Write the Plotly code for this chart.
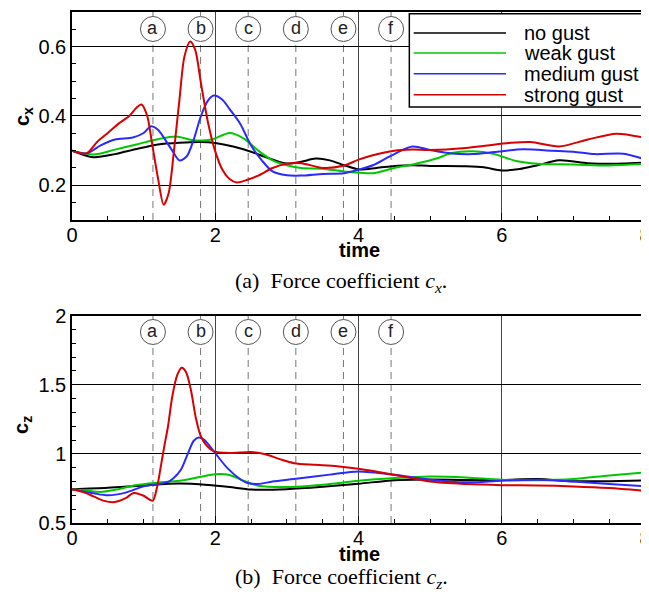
import plotly.graph_objects as go

# ---------------- data ----------------
# top panel: force coefficient c_x
t_cx_none = [0, 0.3, 0.6, 0.9, 1.2, 1.5, 1.8, 2.0, 2.25, 2.5, 2.75, 3.0, 3.2, 3.4, 3.6, 3.8, 4.0, 4.25, 4.5, 4.75, 5.0, 5.5, 5.75, 6.0, 6.25, 6.5, 6.8, 7.2, 7.5, 8.0]
cx_none = [0.300, 0.281, 0.290, 0.305, 0.318, 0.323, 0.325, 0.322, 0.312, 0.297, 0.278, 0.263, 0.268, 0.277, 0.272, 0.258, 0.246, 0.250, 0.256, 0.258, 0.256, 0.255, 0.252, 0.243, 0.247, 0.258, 0.272, 0.264, 0.262, 0.266]

t_cx_weak = [0, 0.3, 0.6, 0.9, 1.2, 1.45, 1.7, 1.95, 2.2, 2.4, 2.6, 2.8, 3.0, 3.2, 3.5, 3.8, 4.2, 4.5, 4.8, 5.1, 5.3, 5.6, 5.9, 6.2, 6.5, 7.0, 7.5, 8.0]
cx_weak = [0.300, 0.289, 0.303, 0.318, 0.333, 0.341, 0.330, 0.332, 0.351, 0.335, 0.300, 0.272, 0.258, 0.250, 0.248, 0.240, 0.235, 0.250, 0.262, 0.278, 0.293, 0.298, 0.290, 0.270, 0.262, 0.260, 0.257, 0.262]

t_cx_medium = [0, 0.2, 0.4, 0.6, 0.85, 1.0, 1.1, 1.2, 1.3, 1.4, 1.5, 1.6, 1.7, 1.8, 1.9, 1.98, 2.1, 2.2, 2.35, 2.5, 2.65, 2.8, 3.0, 3.2, 3.5, 3.8, 4.0, 4.2, 4.45, 4.75, 5.0, 5.3, 5.6, 5.9, 6.3, 6.7, 7.0, 7.3, 7.7, 8.0]
cx_medium = [0.300, 0.292, 0.315, 0.332, 0.338, 0.351, 0.370, 0.360, 0.332, 0.300, 0.272, 0.283, 0.332, 0.400, 0.445, 0.459, 0.447, 0.420, 0.377, 0.315, 0.272, 0.240, 0.229, 0.228, 0.233, 0.235, 0.245, 0.258, 0.285, 0.312, 0.302, 0.292, 0.290, 0.296, 0.304, 0.300, 0.297, 0.290, 0.291, 0.275]

t_cx_strong = [0, 0.2, 0.35, 0.5, 0.65, 0.8, 0.9, 0.97, 1.05, 1.12, 1.2, 1.28, 1.35, 1.42, 1.5, 1.57, 1.65, 1.72, 1.8, 1.9, 2.0, 2.1, 2.2, 2.3, 2.45, 2.6, 2.8, 3.0, 3.2, 3.5, 3.8, 4.0, 4.2, 4.5, 4.75, 5.0, 5.5, 5.8, 6.1, 6.4, 6.8, 7.2, 7.6, 8.0]
cx_strong = [0.300, 0.292, 0.325, 0.351, 0.378, 0.400, 0.424, 0.433, 0.400, 0.318, 0.221, 0.144, 0.178, 0.293, 0.447, 0.572, 0.615, 0.591, 0.495, 0.380, 0.298, 0.245, 0.218, 0.208, 0.216, 0.228, 0.250, 0.262, 0.264, 0.250, 0.257, 0.274, 0.287, 0.300, 0.303, 0.302, 0.308, 0.315, 0.322, 0.325, 0.312, 0.332, 0.349, 0.337]

# bottom panel: force coefficient c_z
t_cz_none = [0, 0.5, 1.0, 1.5, 1.9, 2.2, 2.5, 3.0, 3.5, 4.0, 4.5, 5.0, 5.5, 6.0, 6.5, 7.0, 7.5, 8.0]
cz_none = [0.745, 0.755, 0.772, 0.785, 0.775, 0.760, 0.742, 0.745, 0.762, 0.784, 0.810, 0.815, 0.812, 0.812, 0.818, 0.802, 0.803, 0.808]

t_cz_weak = [0, 0.2, 0.4, 0.6, 0.9, 1.2, 1.5, 1.8, 2.0, 2.2, 2.4, 2.6, 3.0, 3.5, 4.0, 4.5, 5.0, 5.5, 6.0, 6.5, 7.0, 7.5, 8.0]
cz_weak = [0.745, 0.735, 0.725, 0.740, 0.775, 0.792, 0.805, 0.835, 0.853, 0.848, 0.805, 0.770, 0.760, 0.777, 0.806, 0.825, 0.837, 0.830, 0.813, 0.810, 0.818, 0.844, 0.866]

t_cz_medium = [0, 0.3, 0.5, 0.75, 1.0, 1.2, 1.35, 1.42, 1.52, 1.61, 1.7, 1.77, 1.85, 1.98, 2.17, 2.36, 2.45, 2.6, 2.8, 3.1, 3.6, 4.0, 4.5, 5.0, 5.5, 6.0, 6.5, 7.0, 7.5, 8.0]
cz_medium = [0.745, 0.715, 0.700, 0.720, 0.765, 0.780, 0.800, 0.825, 0.885, 0.993, 1.095, 1.119, 1.100, 1.018, 0.897, 0.813, 0.789, 0.782, 0.800, 0.818, 0.850, 0.873, 0.849, 0.813, 0.794, 0.806, 0.813, 0.800, 0.782, 0.765]

t_cz_strong = [0, 0.15, 0.3, 0.45, 0.6, 0.75, 0.86, 1.0, 1.08, 1.13, 1.19, 1.24, 1.29, 1.34, 1.40, 1.47, 1.53, 1.59, 1.66, 1.73, 1.8, 1.89, 1.98, 2.2, 2.5, 2.7, 2.9, 3.1, 3.4, 3.7, 4.0, 4.5, 5.0, 5.5, 6.0, 6.5, 7.0, 7.5, 8.0]
cz_strong = [0.745, 0.725, 0.693, 0.660, 0.652, 0.680, 0.717, 0.697, 0.670, 0.662, 0.765, 0.910, 1.060, 1.198, 1.415, 1.571, 1.624, 1.595, 1.463, 1.258, 1.126, 1.054, 1.018, 1.006, 1.013, 0.997, 0.962, 0.933, 0.921, 0.910, 0.892, 0.849, 0.800, 0.782, 0.774, 0.772, 0.765, 0.753, 0.733]

series_names = ["no gust", "weak gust", "medium gust", "strong gust"]
series_colors = ["#000000", "#00c800", "#2a2aff", "#d80000"]

marker_times = [1.13, 1.795, 2.46, 3.125, 3.79, 4.455]
marker_labels = ["a", "b", "c", "d", "e", "f"]

cx_ticks = [0.2, 0.4, 0.6]
cz_ticks = [0.5, 1, 1.5, 2]
time_ticks = [0, 2, 4, 6, 8]

# ---------------- figure ----------------
fig = go.Figure()

top = [(t_cx_none, cx_none), (t_cx_weak, cx_weak), (t_cx_medium, cx_medium), (t_cx_strong, cx_strong)]
bot = [(t_cz_none, cz_none), (t_cz_weak, cz_weak), (t_cz_medium, cz_medium), (t_cz_strong, cz_strong)]

for (t, v), name, col in zip(top, series_names, series_colors):
    fig.add_trace(go.Scatter(x=t, y=v, mode="lines", name=name, showlegend=False,
                             line=dict(color=col, width=2, shape="spline", smoothing=0.8),
                             xaxis="x", yaxis="y"))
for (t, v), name, col in zip(bot, series_names, series_colors):
    fig.add_trace(go.Scatter(x=t, y=v, mode="lines", name=name, showlegend=False,
                             line=dict(color=col, width=2, shape="spline", smoothing=0.8),
                             xaxis="x2", yaxis="y2"))

SANS = "Liberation Sans, Arial, Helvetica, sans-serif"
tick_font = dict(family=SANS, size=20, color="black")

common_x = dict(range=[0, 8], tickvals=time_ticks, ticks="inside", ticklen=7, tickcolor="black",
                showgrid=True, gridcolor="#444444", gridwidth=1,
                showline=True, linecolor="black", linewidth=1.5, mirror=True,
                zeroline=False, tickfont=tick_font, ticklabelstandoff=-4,
                ticklabeloverflow="allow",
                minor=dict(dtick=0.5, ticks="inside", ticklen=4, tickcolor="black", showgrid=False))
common_y = dict(ticks="inside", ticklen=7, tickcolor="black",
                showgrid=True, gridcolor="black", gridwidth=1,
                showline=True, linecolor="black", linewidth=1.5, mirror=True,
                zeroline=False, tickfont=tick_font, ticklabeloverflow="allow")

fig.update_layout(
    width=641, height=587,
    paper_bgcolor="white", plot_bgcolor="white",
    margin=dict(l=64, r=4, t=4, b=72, autoexpand=False),
    xaxis=dict(domain=[0, 1], anchor="y", **common_x),
    yaxis=dict(domain=[0.593, 1], anchor="x", range=[0.1, 0.7], tickvals=cx_ticks,
               minor=dict(dtick=0.05, ticks="inside", ticklen=4, tickcolor="black", showgrid=False),
               **common_y),
    xaxis2=dict(domain=[0, 1], anchor="y2", **common_x),
    yaxis2=dict(domain=[0, 0.4057], anchor="x2", range=[0.5, 2], tickvals=cz_ticks,
                minor=dict(dtick=0.1, ticks="inside", ticklen=4, tickcolor="black", showgrid=False),
                **common_y),
    showlegend=False,
)

# marker lines and circled labels
for ya, yc in [("y", 0.651), ("y2", 1.882)]:
    xa = "x" if ya == "y" else "x2"
    for tm, lab in zip(marker_times, marker_labels):
        fig.add_shape(type="line", xref=xa, yref=ya + " domain", x0=tm, x1=tm, y0=0, y1=1,
                      line=dict(color="#777777", width=1, dash="7px,5px"), layer="below")
        fig.add_shape(type="circle", xref=xa, yref=ya, xsizemode="pixel", ysizemode="pixel",
                      xanchor=tm, yanchor=yc, x0=-12.5, x1=12.5, y0=-12.5, y1=12.5,
                      line=dict(color="#555555", width=1), fillcolor="white", layer="above")
        fig.add_annotation(x=tm, y=yc, xref=xa, yref=ya, text=lab, showarrow=False,
                           xanchor="center", yanchor="middle",
                           font=dict(family=SANS, size=18, color="#222222"), yshift=1)

# legend (drawn as a boxed key in paper coordinates)
fig.add_shape(type="rect", xref="paper", yref="paper", x0=0.5887, x1=0.9988, y0=0.8141, y1=0.9967,
              line=dict(color="black", width=1.5), fillcolor="white", layer="above")
legend_rows = [0.9589, 0.9198, 0.8793, 0.8382]
for name, col, ry in zip(series_names, series_colors, legend_rows):
    fig.add_shape(type="line", xref="paper", yref="paper", x0=0.5963, x1=0.7574, y0=ry, y1=ry,
                  line=dict(color=col, width=1.5), layer="above")
    fig.add_annotation(x=0.7848, y=ry, xref="paper", yref="paper", text=name, showarrow=False,
                       xanchor="left", yanchor="middle",
                       font=dict(family=SANS, size=20, color="black"))

title_font = dict(family=SANS, size=20, color="black")
fig.add_annotation(x=-0.0855, y=0.7945, xref="paper", yref="paper", text="<b>c<sub>x</sub></b>",
                   textangle=-90, showarrow=False, xanchor="center", yanchor="middle", font=title_font)
fig.add_annotation(x=-0.0855, y=0.1918, xref="paper", yref="paper", text="<b>c<sub>z</sub></b>",
                   textangle=-90, showarrow=False, xanchor="center", yanchor="middle", font=title_font)
fig.add_annotation(x=0.501, y=0.535, xref="paper", yref="paper", text="<b>time</b>",
                   showarrow=False, xanchor="center", yanchor="middle", font=title_font)
fig.add_annotation(x=0.501, y=-0.0615, xref="paper", yref="paper", text="<b>time</b>",
                   showarrow=False, xanchor="center", yanchor="middle", font=title_font)

cap_font = dict(family="Liberation Serif, Times New Roman, serif", size=22, color="black")
fig.add_annotation(x=0.4695, y=0.4716, xref="paper", yref="paper",
                   text="(a)  Force coefficient <i>c<sub>x</sub></i>.", showarrow=False,
                   xanchor="center", yanchor="middle", font=cap_font)
fig.add_annotation(x=0.4695, y=-0.1076, xref="paper", yref="paper",
                   text="(b)  Force coefficient <i>c<sub>z</sub></i>.", showarrow=False,
                   xanchor="center", yanchor="middle", font=cap_font)

fig.write_html("out.html")
